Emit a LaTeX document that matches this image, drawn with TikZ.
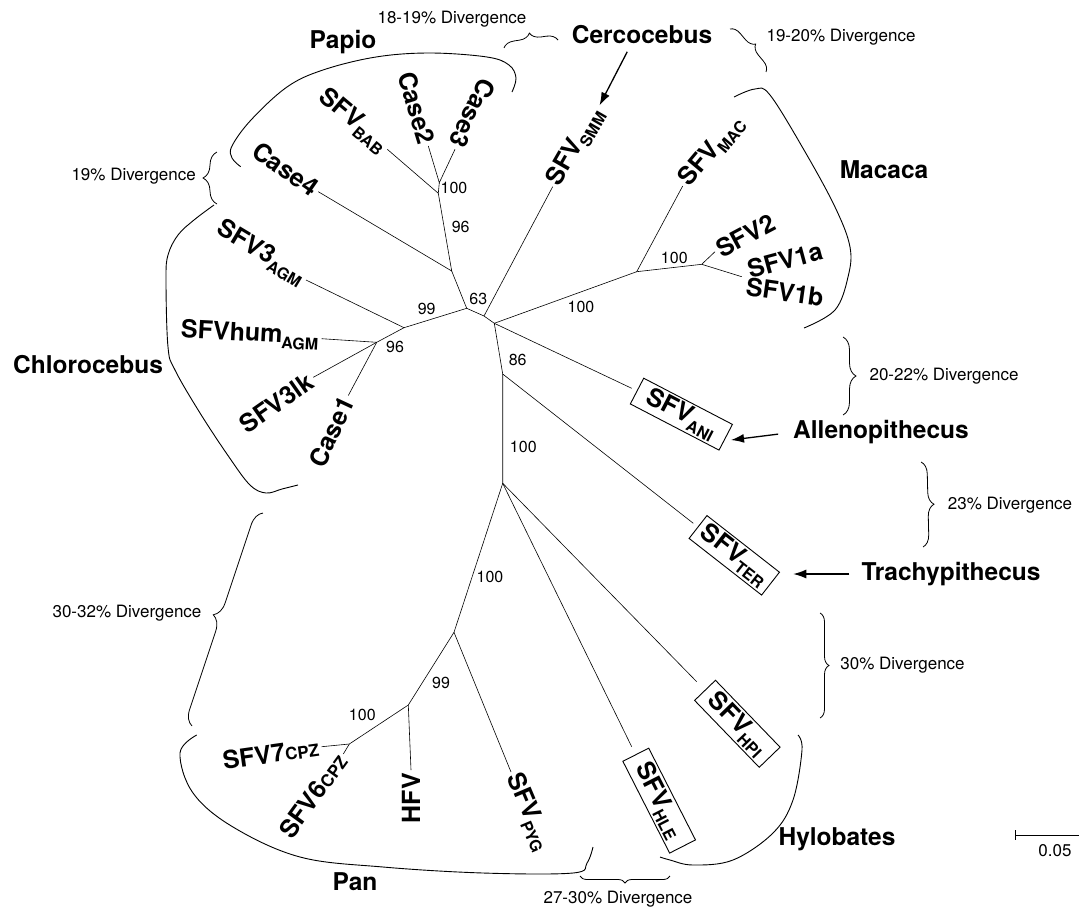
\documentclass[tikz,border=0pt]{standalone}
\usepackage{fontspec}
\setmainfont{TeX Gyre Heros}
\usetikzlibrary{arrows.meta,decorations.pathreplacing}

\newcommand{\leaffont}{\fontsize{25}{27}\selectfont\bfseries}
\newcommand{\cladefont}{\fontsize{24.5}{27}\selectfont\bfseries}
\newcommand{\bootfont}{\fontsize{16}{18}\selectfont}
\newcommand{\divfont}{\fontsize{17}{19}\selectfont}
\newcommand{\subtag}[1]{\kern-0.5pt\raisebox{-6pt}{\fontsize{16}{16}\selectfont #1}}
\newcommand{\cpz}{{\fontsize{17}{17}\selectfont CPZ}}

\begin{document}
\begin{tikzpicture}[
  x=1pt, y=-1pt,
  branch/.style={line width=0.6pt},
  leaf/.style={font=\leaffont, inner sep=3pt},
  boxed/.style={draw, line width=0.9pt, font=\leaffont, inner sep=1pt, minimum height=29pt, outer sep=6pt},
  clade/.style={font=\cladefont, inner sep=2pt},
  boot/.style={font=\bootfont, inner sep=0pt},
  divtext/.style={font=\divfont, inner sep=0pt},
  bracket/.style={line width=0.9pt},
  divbrace/.style={decorate, decoration={brace, amplitude=#1}, line width=0.8pt},
  arrow/.style={-{Latex[length=13pt,width=9pt]}, line width=1.3pt}
]
\useasboundingbox (0,0) rectangle (1079,908);

% internal nodes
\coordinate (p23) at (439.3,182.7);
\coordinate (p100) at (438.3,193.3);
\coordinate (p96) at (451.7,271);
\coordinate (n63) at (466.7,308.3);
\coordinate (nB) at (484,316);
\coordinate (nC) at (494.3,323.3);
\coordinate (m100) at (636.7,271.7);
\coordinate (m1) at (701.7,264.3);
\coordinate (n86) at (502.7,374);
\coordinate (n100) at (502.7,483.3);
\coordinate (h100) at (454,632.3);
\coordinate (h99) at (408.3,705);
\coordinate (c100) at (349.3,744);
\coordinate (g99) at (404,327.7);
\coordinate (g96) at (376.7,342.3);

% leaf tips
\coordinate (tC2) at (428.3,146);
\coordinate (tC3) at (455,149.3);
\coordinate (tBAB) at (387.3,149.3);
\coordinate (tC4) at (318.3,191.7);
\coordinate (tSMM) at (552.7,186.7);
\coordinate (tMAC) at (682.7,186);
\coordinate (tS2) at (715,251.7);
\coordinate (tS1) at (741.7,276.7);
\coordinate (tANI) at (631.7,388.3);
\coordinate (tTER) at (693.3,523.3);
\coordinate (tHPI) at (696.7,681.7);
\coordinate (tHLE) at (631.7,746.7);
\coordinate (tPYG) at (511,772);
\coordinate (tHFV) at (411,770);
\coordinate (tS7) at (321.7,746.7);
\coordinate (tS6) at (343.3,754);
\coordinate (tAGM) at (306,280);
\coordinate (tHUM) at (321.7,338.7);
\coordinate (tLK) at (313.3,377.3);
\coordinate (tC1) at (348.3,395.5);

% branches
\draw[branch] (tC2) -- (p23) -- (tC3);
\draw[branch] (p23) -- (p100) -- (tBAB);
\draw[branch] (p100) -- (p96) -- (tC4);
\draw[branch] (p96) -- (n63) -- (g99) -- (tAGM);
\draw[branch] (g99) -- (g96) -- (tHUM);
\draw[branch] (g96) -- (tLK);
\draw[branch] (g96) -- (tC1);
\draw[branch] (n63) -- (nB) -- (tSMM);
\draw[branch] (nB) -- (nC) -- (m100) -- (tMAC);
\draw[branch] (m100) -- (m1) -- (tS2);
\draw[branch] (m1) -- (tS1);
\draw[branch] (nC) -- (tANI);
\draw[branch] (nC) -- (n86) -- (tTER);
\draw[branch] (n86) -- (n100) -- (tHPI);
\draw[branch] (n100) -- (tHLE);
\draw[branch] (n100) -- (h100) -- (tPYG);
\draw[branch] (h100) -- (h99) -- (tHFV);
\draw[branch] (h99) -- (c100) -- (tS7);
\draw[branch] (c100) -- (tS6);

% leaf labels
\node[leaf, anchor=east, rotate=-73] (lC2) at (tC2) {Case2};
\node[leaf, anchor=east, rotate=-116] (lC3) at (tC3) {Case3};
\node[leaf, anchor=east, rotate=-40] (lBAB) at (tBAB) {SFV\subtag{BAB}};
\node[leaf, anchor=east, rotate=-35] (lC4) at (tC4) {Case4};
\node[leaf, anchor=west, rotate=60] (lSMM) at (tSMM) {SFV\subtag{SMM}};
\node[leaf, anchor=west, rotate=50] (lMAC) at (tMAC) {SFV\subtag{MAC}};
\node[leaf, anchor=west, rotate=28] (lS2) at (tS2) {SFV2};
\node[leaf, rotate=15] (lS1a) at (785,260) {SFV1a};
\node[leaf, rotate=-8] (lS1b) at (785,292) {SFV1b};
\node[boxed, anchor=west, rotate=-27.5, minimum width=100pt] (lANI) at (tANI) {SFV\subtag{ANI}};
\node[boxed, anchor=west, rotate=-38, minimum width=92pt] (lTER) at (tTER) {SFV\subtag{TER}};
\node[boxed, anchor=west, rotate=-46, minimum width=93pt, outer sep=12pt] (lHPI) at (tHPI) {SFV\subtag{HPI}};
\node[boxed, anchor=west, rotate=-63, minimum width=103pt, outer sep=9pt] (lHLE) at (tHLE) {SFV\subtag{HLE}};
\node[leaf, anchor=west, rotate=-67] (lPYG) at (tPYG) {SFV\subtag{PYG}};
\node[leaf, anchor=east, rotate=90] (lHFV) at (tHFV) {HFV};
\node[leaf, anchor=east, rotate=8] (lS7) at (tS7) {SFV7\cpz};
\node[leaf, anchor=east, rotate=54] (lS6) at (tS6) {SFV6\cpz};
\node[leaf, anchor=east, rotate=-31] (lAGM) at (tAGM) {SFV3\subtag{AGM}};
\node[leaf, anchor=east, rotate=-3] (lHUM) at (tHUM) {SFVhum\subtag{AGM}};
\node[leaf, anchor=east, rotate=35] (lLK) at (tLK) {SFV3lk};
\node[leaf, anchor=east, rotate=65] (lC1) at (tC1) {Case1};

% bootstrap values
\node[boot] (bP100) at (454,188) {100};
\node[boot] (bP96) at (460.7,227.3) {96};
\node[boot] (b63) at (478.3,299.3) {63};
\node[boot] (b99) at (426.7,309.3) {99};
\node[boot] (b96) at (395,346.7) {96};
\node[boot] (bM100) at (581,307.3) {100};
\node[boot] (bM1) at (674.3,257.7) {100};
\node[boot] (b86) at (517.7,360) {86};
\node[boot] (b100) at (523.3,446.7) {100};
\node[boot] (bH100) at (490,577.3) {100};
\node[boot] (bH99) at (441,682.7) {99};
\node[boot] (bC100) at (362.3,715) {100};

% genus names
\node[clade] (papio) at (343,42.5) {Papio};
\node[clade] (cerco) at (642,35) {Cercocebus};
\node[clade] (macaca) at (884,170) {Macaca};
\node[clade] (chloro) at (88,365) {Chlorocebus};
\node[clade] (alleno) at (881,432.5) {Allenopithecus};
\node[clade] (trachy) at (951,574) {Trachypithecus};
\node[clade] (hylo) at (837,839) {Hylobates};
\node[clade] (pan) at (355,882) {Pan};

\draw[arrow, shorten <=6pt, shorten >=2pt] ([xshift=-12pt]cerco.south) -- (lSMM.east);
\draw[arrow, shorten <=13pt] (alleno.west) -- (lANI.east);
\draw[arrow, shorten <=10pt, shorten >=18pt] (trachy.west) -- (trachy.west -| lTER.east);

% clade brackets
\draw[bracket] plot[smooth, tension=0.6] coordinates {(240.7,166.7) (232,158) (232,146) (251,120) (287,87) (323,70) (376,57) (430,53) (487,57) (509,65) (516,78) (512,92)};
\draw[bracket] plot[smooth, tension=0.6] coordinates {(214,205) (194,220) (178,235) (168,255) (166,280) (168,347) (175,370) (200,413) (229,457) (250,485) (266,493) (282,489) (298,485)};
\draw[bracket] plot[smooth, tension=0.6] coordinates {(734,97) (755,89) (770,95) (804,150) (835,207) (850,247) (848,277) (835,310) (804,328)};
\draw[bracket] plot[smooth, tension=0.6] coordinates {(196.7,735) (180,753) (193,793) (233,827) (300,857) (383,867) (483,873) (573,873) (587,863) (593,847)};
\draw[bracket] plot[smooth, tension=0.6] coordinates {(798,735) (802,750) (793,800) (773,833) (733,860) (693,865) (670,860) (660,857)};

% divergence braces
\draw[divbrace=11pt] (504,48) -- (558,40);
\draw[divbrace=10pt] (730,29) -- (766,72);
\draw[divbrace=14pt] (217,204) -- (217,152);
\draw[divbrace=15pt] (192,726) -- (263,513);
\draw[divbrace=13pt] (843,337) -- (843,415);
\draw[divbrace=12pt] (921,462) -- (923,547);
\draw[divbrace=9pt] (820,613) -- (820,718);
\draw[divbrace=7pt] (670,876) -- (580,876);

\node[divtext] (d1819) at (452,19) {18-19\% Divergence};
\node[divtext] (d1920) at (841,37.5) {19-20\% Divergence};
\node[divtext, anchor=east] (d19) at (196,176) {19\% Divergence};
\node[divtext] (d2022) at (944,376) {20-22\% Divergence};
\node[divtext] (d23) at (1010,505) {23\% Divergence};
\node[divtext] (d3032) at (127,613) {30-32\% Divergence};
\node[divtext] (d30) at (902.5,665) {30\% Divergence};
\node[divtext] (d2730) at (618,899) {27-30\% Divergence};

% scale bar
\coordinate (sb0) at (1015,835);
\coordinate (sb1) at (1079,835);
\draw[branch, line width=0.8pt] (sb0) -- (sb1);
\draw[branch, line width=0.8pt] ([yshift=5pt]sb0) -- ([yshift=-5pt]sb0);
\node[divtext] (sbl) at (1055,851) {0.05};
\end{tikzpicture}
\end{document}
